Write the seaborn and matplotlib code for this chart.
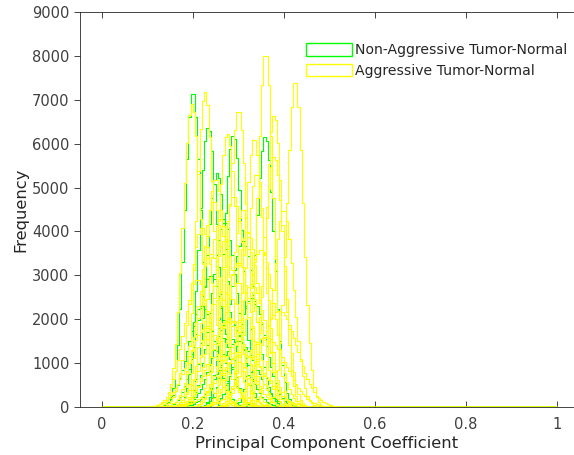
import numpy as np
import pandas as pd
import seaborn as sns
import matplotlib
matplotlib.use("Agg")
import matplotlib.pyplot as plt
from matplotlib.patches import Patch

# --- Data: each histogram curve as (centre, peak count, spread) ---
green_centers = [0.200, 0.234, 0.253, 0.289, 0.359, 0.270, 0.310, 0.240, 0.330, 0.280, 0.220, 0.300]
green_peaks   = [7200, 6380, 5330, 6200, 6160, 4200, 3800, 3000, 2500, 2000, 2300, 1500]
green_sds     = [0.018, 0.020, 0.022, 0.020, 0.020, 0.028, 0.028, 0.030, 0.030, 0.035, 0.030, 0.040]

yellow_centers = [0.198, 0.227, 0.300, 0.276, 0.335, 0.360, 0.379, 0.379, 0.425, 0.340,
                  0.245, 0.260, 0.290, 0.310, 0.320, 0.270, 0.240, 0.350, 0.300, 0.210,
                  0.330, 0.260, 0.390, 0.280, 0.230, 0.360, 0.310, 0.250, 0.220, 0.400]
yellow_peaks   = [6900, 7180, 6770, 6240, 6130, 8090, 6650, 5700, 7450, 5330,
                  4700, 4300, 4800, 4500, 4000, 3800, 3500, 3600, 3300, 2900,
                  2800, 2500, 2200, 2000, 1800, 1600, 1200, 5200, 4100, 4500]
yellow_sds     = [0.020, 0.019, 0.020, 0.021, 0.021, 0.017, 0.019, 0.022, 0.018, 0.022,
                  0.025, 0.026, 0.025, 0.025, 0.027, 0.028, 0.030, 0.030, 0.030, 0.030,
                  0.033, 0.035, 0.040, 0.040, 0.040, 0.045, 0.050, 0.023, 0.026, 0.022]

bin_width = 0.005
edges = np.arange(0.0, 1.0 + bin_width / 2, bin_width)
mids = (edges[:-1] + edges[1:]) / 2

GREEN = "#00ff00"
YELLOW = "#ffff00"

sns.set_style("white")
plt.rcParams['font.family'] = ['DejaVu Sans']

fig = plt.figure(figsize=(5.74, 4.55), dpi=100)
ax = fig.add_axes([80 / 574, 48 / 455, 493 / 574, 395 / 455])


def draw(center, peak, sd, color):
    counts = np.round(peak * np.exp(-0.5 * ((mids - center) / sd) ** 2))
    df = pd.DataFrame({"x": mids, "w": counts})
    sns.histplot(data=df, x="x", weights="w", binwidth=bin_width, binrange=(0.0, 1.0),
                 element="step", fill=False, color=color, linewidth=0.8, ax=ax)


for c, p, s in zip(green_centers, green_peaks, green_sds):
    draw(c, p, s, GREEN)
for c, p, s in zip(yellow_centers, yellow_peaks, yellow_sds):
    draw(c, p, s, YELLOW)

ax.set_xlim(-0.048, 1.036)
ax.set_ylim(0, 9000)
ax.set_xticks([0, 0.2, 0.4, 0.6, 0.8, 1.0])
ax.set_xticklabels(["0", "0.2", "0.4", "0.6", "0.8", "1"])
ax.set_yticks(np.arange(0, 9001, 1000))
ax.set_yticklabels([str(v) for v in range(0, 9001, 1000)])

ax.set_xlabel("Principal Component Coefficient", fontsize=11.8, color="#262626", labelpad=3)
ax.set_ylabel("Frequency", fontsize=11.8, color="#262626", labelpad=3)

for side in ["left", "bottom", "top"]:
    ax.spines[side].set_visible(True)
    ax.spines[side].set_color("#262626")
    ax.spines[side].set_linewidth(0.6)
ax.spines["right"].set_visible(False)

ax.tick_params(axis="x", direction="in", length=4, width=0.6, colors="#262626",
               labelsize=10.5, labelcolor="#404040", top=True, bottom=True, pad=7)
ax.tick_params(axis="y", direction="out", length=4, width=0.6, colors="#262626",
               labelsize=10.5, labelcolor="#404040", left=True, right=False)

handles = [Patch(facecolor="white", edgecolor=GREEN, linewidth=1.0, label="Non-Aggressive Tumor-Normal"),
           Patch(facecolor="white", edgecolor=YELLOW, linewidth=1.0, label="Aggressive Tumor-Normal")]
ax.legend(handles=handles, loc="upper right", bbox_to_anchor=(1.0, 0.935), frameon=False,
          fontsize=10.1, handlelength=3.3, handleheight=0.95, handletextpad=0.2,
          labelspacing=0.45, borderaxespad=0.0, labelcolor="#262626")

fig.savefig("out.png", dpi=100)
